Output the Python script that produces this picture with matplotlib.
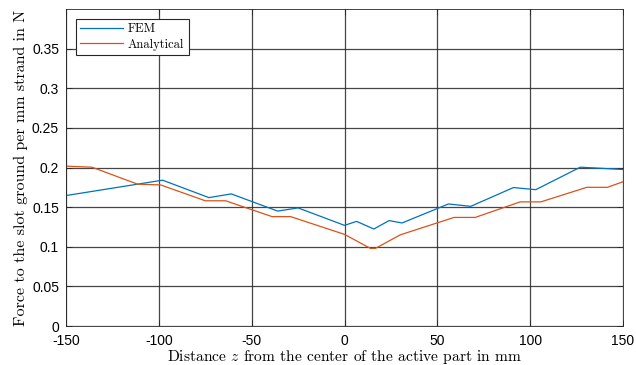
import numpy as np
import matplotlib.pyplot as plt

# distance from the center of the active part in mm
z_fem = [-150, -98, -73, -61, -36, -25, 0, 6.5, 15.8, 24, 31, 56, 68, 91, 103, 127, 150]
force_fem = [0.1646, 0.184, 0.162, 0.1667, 0.145, 0.149, 0.127, 0.132, 0.1224, 0.133, 0.130,
             0.154, 0.151, 0.1747, 0.172, 0.2004, 0.1975]

z_ana = [-150, -136, -111.5, -99, -75, -64, -39, -29, 0, 14, 16.7, 30, 59, 70.4, 94.6, 105.7,
         130.5, 141.6, 150]
force_ana = [0.2017, 0.2004, 0.179, 0.178, 0.158, 0.158, 0.138, 0.138, 0.1156, 0.0979, 0.098,
             0.115, 0.137, 0.137, 0.1566, 0.1566, 0.175, 0.175, 0.182]

x_ticks = [-150, -100, -50, 0, 50, 100, 150]
y_ticks = [0, 0.05, 0.1, 0.15, 0.2, 0.25, 0.3, 0.35]

plt.rcParams['mathtext.fontset'] = 'cm'
plt.rcParams['axes.unicode_minus'] = False

fig = plt.figure(figsize=(6.36, 3.65), dpi=100)
ax = fig.add_axes([66 / 636, 1 - 326 / 365, (623 - 66) / 636, (326 - 9) / 365])

ax.plot(z_fem, force_fem, color='#0072BD', lw=0.9, label='FEM')
ax.plot(z_ana, force_ana, color='#D95319', lw=0.9, label='Analytical')

ax.set_xlim(-150, 150)
ax.set_ylim(0, 0.4)
ax.set_xticks(x_ticks)
ax.set_yticks(y_ticks)
ax.set_xticklabels([str(v) for v in x_ticks], fontfamily='Liberation Sans', fontsize=10)
ax.set_yticklabels(['0', '0.05', '0.1', '0.15', '0.2', '0.25', '0.3', '0.35'],
                   fontfamily='Liberation Sans', fontsize=10)
ax.tick_params(direction='in', top=True, right=True, length=4, width=0.6, color='#262626')
ax.tick_params(axis='x', pad=5.5)
ax.tick_params(axis='y', pad=5)
ax.grid(True, color='#262626', lw=0.9, alpha=0.85)
for s in ax.spines.values():
    s.set_color('#262626')
    s.set_linewidth(0.6)

ax.set_xlabel('Distance $z$ from the center of the active part in mm', fontfamily='cmr10',
              fontsize=11.2, labelpad=0.5)
ax.set_ylabel('Force to the slot ground per mm strand in N', fontfamily='cmr10',
              fontsize=11.5, labelpad=3)

leg = ax.legend(loc='upper left', prop={'family': 'cmr10', 'size': 9}, fancybox=False,
                framealpha=1, edgecolor='#262626', borderpad=0.35, labelspacing=0.25,
                handlelength=3.4, handletextpad=0.4, borderaxespad=0.8)
leg.get_frame().set_linewidth(0.8)

fig.savefig('out.png', dpi=100)
